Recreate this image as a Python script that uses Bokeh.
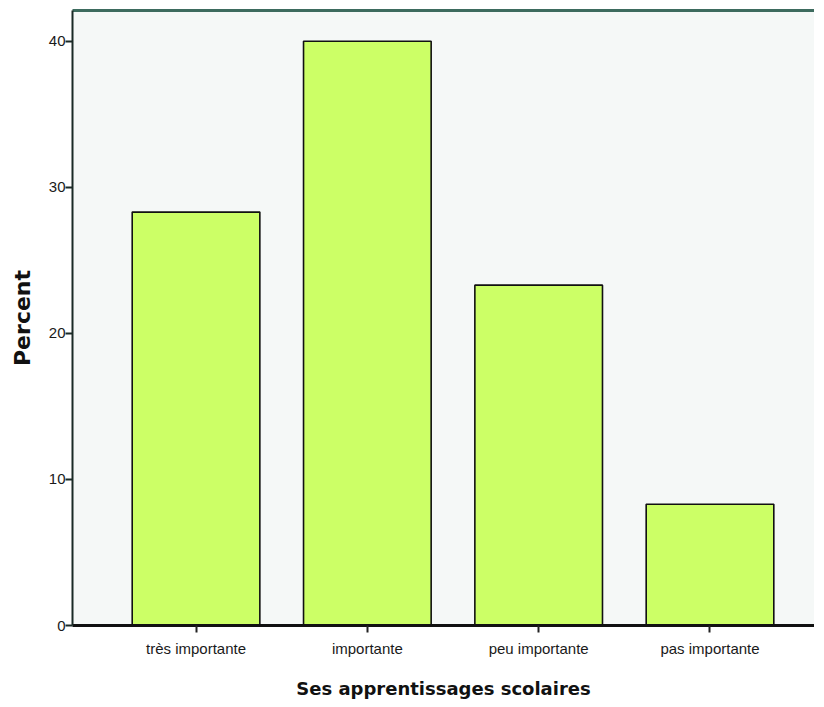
from bokeh.plotting import figure
from bokeh.models import FixedTicker, LinearAxis, Range1d
from bokeh.embed import file_html
from bokeh.resources import INLINE

categories = ["très importante", "importante", "peu importante", "pas importante"]
percents = [28.3, 40.0, 23.3, 8.3]
y_ticks = [0, 10, 20, 30, 40]

xs = list(range(1, len(categories) + 1))

p = figure(width=814, height=701, output_backend="svg", toolbar_location=None,
           x_range=Range1d(0.279, 4.61), y_range=Range1d(0, 42.1),
           min_border_left=72, min_border_right=0, min_border_top=10,
           min_border_bottom=74)
p.background_fill_color = "#f5f8f7"
p.border_fill_color = "white"
p.outline_line_color = None
p.xgrid.visible = False
p.ygrid.visible = False

p.vbar(x=xs, top=percents, width=0.745, fill_color="#ccff66",
       line_color="#111111", line_width=1.6)

font = "Liberation Sans"
xa = p.xaxis[0]
xa.ticker = FixedTicker(ticks=xs)
xa.major_label_overrides = {x: c for x, c in zip(xs, categories)}
xa.major_label_text_font = font
xa.major_label_text_font_size = "15px"
xa.major_label_text_color = "#1a1a1a"
xa.major_label_standoff = 7
xa.major_tick_out = 7
xa.major_tick_in = 0
xa.major_tick_line_color = "#222222"
xa.major_tick_line_width = 2
xa.minor_tick_line_color = None
xa.axis_line_color = "#111111"
xa.axis_line_width = 3
xa.axis_label = "Ses apprentissages scolaires"
xa.axis_label_text_font = "DejaVu Sans"
xa.axis_label_text_font_style = "bold"
xa.axis_label_text_font_size = "18px"
xa.axis_label_text_color = "#111111"
xa.axis_label_standoff = 18

ya = p.yaxis[0]
ya.ticker = FixedTicker(ticks=y_ticks)
ya.major_label_text_font = font
ya.major_label_text_font_size = "15px"
ya.major_label_text_color = "#1a1a1a"
ya.major_label_standoff = 0
ya.major_tick_out = 7
ya.major_tick_in = 0
ya.major_tick_line_color = "#1a2a26"
ya.major_tick_line_width = 2
ya.minor_tick_line_color = None
ya.axis_line_color = "#1a2a26"
ya.axis_line_width = 2
ya.axis_label = "Percent"
ya.axis_label_text_font = "DejaVu Sans"
ya.axis_label_text_font_style = "bold"
ya.axis_label_text_font_size = "22px"
ya.axis_label_text_color = "#111111"
ya.axis_label_standoff = 11

top = LinearAxis(ticker=FixedTicker(ticks=[]), axis_line_color="#3d6b5e",
                 axis_line_width=3, major_tick_out=0, major_tick_in=0,
                 minor_tick_line_color=None, major_label_text_font_size="0px",
                 major_label_standoff=0)
p.add_layout(top, "above")

open("out.html", "w").write(file_html(p, INLINE))
